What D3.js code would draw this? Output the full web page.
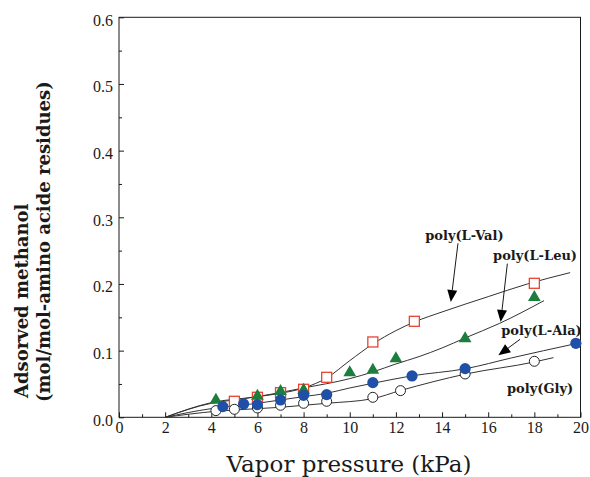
<!DOCTYPE html>
<html><head><meta charset="utf-8">
<script src="https://cdn.jsdelivr.net/npm/d3@7"></script>
<style>body{margin:0;background:#fff}svg{display:block}
.tk{font-family:"Liberation Serif","Times New Roman",Times,serif;font-size:16px}</style>
</head><body>
<svg id="c" width="590" height="477"></svg>
<script>
// ---- data ----
const xTicks = [0,2,4,6,8,10,12,14,16,18,20];
const yTicks = [0.0,0.1,0.2,0.3,0.4,0.5,0.6];

const valX = [5, 6, 7, 8, 9, 11, 12.8, 18];
const valY = [0.024, 0.030, 0.037, 0.042, 0.060, 0.113, 0.144, 0.201];
const leuX = [4.2, 6, 7, 8, 10, 11, 12, 15, 18];
const leuY = [0.026, 0.032, 0.039, 0.041, 0.067, 0.071, 0.088, 0.118, 0.180];
const alaX = [4.5, 5.4, 6, 7, 8, 9, 11, 12.7, 15, 19.8];
const alaY = [0.016, 0.020, 0.019, 0.026, 0.033, 0.034, 0.052, 0.062, 0.073, 0.111];
const glyX = [4.2, 5, 6, 7, 8, 9, 11, 12.2, 15, 18];
const glyY = [0.010, 0.012, 0.014, 0.018, 0.021, 0.024, 0.030, 0.040, 0.065, 0.084];

// fitted curves as drawn in the figure
const valFitX = [2, 4, 5, 6, 7, 8, 9, 10, 11, 12, 12.8, 14, 16, 17.7, 19.55];
const valFitY = [0, 0.021, 0.026, 0.031, 0.036, 0.044, 0.059, 0.085, 0.110, 0.130, 0.143, 0.158, 0.181, 0.200, 0.217];
const leuFitX = [2, 4, 6, 8, 10, 11, 12, 13, 14, 15, 16.5, 18.42];
const leuFitY = [0, 0.022, 0.031, 0.044, 0.058, 0.068, 0.080, 0.091, 0.104, 0.119, 0.141, 0.175];
const alaFitX = [2, 4, 5, 6, 7, 8, 9, 10, 11, 12.66, 15.04, 17, 19.8];
const alaFitY = [0, 0.013, 0.017, 0.021, 0.026, 0.031, 0.036, 0.044, 0.051, 0.062, 0.073, 0.089, 0.1105];
const glyFitX = [2, 4.2, 5, 6, 7, 8, 9, 11, 12.18, 15.04, 18, 18.83];
const glyFitY = [0, 0.009, 0.011, 0.013, 0.015, 0.018, 0.021, 0.028, 0.040, 0.065, 0.083, 0.0895];

const labelText = ["poly(L-Val)", "poly(L-Leu)", "poly(L-Ala)", "poly(Gly)"];
const labelX = [14.97, 18.03, 18.31, 18.25];
const labelY = [0.2655, 0.2355, 0.123, 0.036];
const arrowFromX = [14.69, 16.83, 17.38];
const arrowFromY = [0.261, 0.2305, 0.117];
const arrowToX = [14.38, 16.54, 16.44];
const arrowToY = [0.173, 0.143, 0.093];

// ---- drawing ----
const svg = d3.select("#c");
const L = 119, R = 580.5, T = 17.3, B = 417.3;
const x = d3.scaleLinear().domain([0,20]).range([L,R]);
const y = d3.scaleLinear().domain([0,0.6]).range([B,T]);
const ink = "#1a1a1a";
const wide = "'DejaVu Serif', serif";

// ticks inside
const xMinor = d3.range(1,20,2);
const yMinor = d3.range(0.05,0.6,0.1);
const gx = svg.append("g").attr("transform",`translate(0,${B})`)
  .call(d3.axisBottom(x).tickValues(xTicks).tickSize(-5).tickFormat(d3.format("d")));
gx.attr("font-family",null).attr("font-size",null);
gx.select(".domain").remove();
gx.selectAll(".tick line").attr("stroke",ink);
gx.selectAll(".tick text").attr("class","tk").attr("fill",ink).attr("y",16).attr("dy",0);
svg.append("g").attr("transform",`translate(0,${B})`)
  .call(d3.axisBottom(x).tickValues(xMinor).tickSize(-3).tickFormat(""))
  .call(g=>g.select(".domain").remove()).selectAll("line").attr("stroke",ink);

const gy = svg.append("g").attr("transform",`translate(${L},0)`)
  .call(d3.axisLeft(y).tickValues(yTicks).tickSize(-5).tickFormat(d3.format(".1f")));
gy.attr("font-family",null).attr("font-size",null);
gy.select(".domain").remove();
gy.selectAll(".tick line").attr("stroke",ink);
gy.selectAll(".tick text").attr("class","tk").attr("fill",ink).attr("x",-6).attr("dy","0.5em");
svg.append("g").attr("transform",`translate(${L},0)`)
  .call(d3.axisLeft(y).tickValues(yMinor).tickSize(-3).tickFormat(""))
  .call(g=>g.select(".domain").remove()).selectAll("line").attr("stroke",ink);

// frame
svg.append("rect").attr("x",L).attr("y",T).attr("width",R-L).attr("height",B-T)
  .attr("fill","none").attr("stroke",ink).attr("stroke-width",1);

// fitted lines
const line = d3.line().x(d=>x(d[0])).y(d=>y(d[1])).curve(d3.curveMonotoneX);
const fits = [[glyFitX,glyFitY],[alaFitX,alaFitY],[leuFitX,leuFitY],[valFitX,valFitY]];
fits.forEach(([fx,fy])=>{
  svg.append("path").datum(fx.map((v,i)=>[v,fy[i]])).attr("d",line)
    .attr("fill","none").attr("stroke","#333").attr("stroke-width",1);
});

// markers
const zip = (a,b)=>a.map((v,i)=>[v,b[i]]);
svg.append("g").selectAll("rect").data(zip(valX,valY)).join("rect")
  .attr("x",d=>x(d[0])-5).attr("y",d=>y(d[1])-5).attr("width",10).attr("height",10)
  .attr("fill","#fff").attr("stroke","#e8432f").attr("stroke-width",1.3);
const tri = d3.symbol().type(d3.symbolTriangle).size(70);
svg.append("g").selectAll("path").data(zip(leuX,leuY)).join("path")
  .attr("d",tri).attr("transform",d=>`translate(${x(d[0])},${y(d[1])})`)
  .attr("fill","#1d7d3d");
svg.append("g").selectAll("circle").data(zip(glyX,glyY)).join("circle")
  .attr("cx",d=>x(d[0])).attr("cy",d=>y(d[1])).attr("r",5)
  .attr("fill","#fff").attr("stroke","#222").attr("stroke-width",1);
svg.append("g").selectAll("circle").data(zip(alaX,alaY)).join("circle")
  .attr("cx",d=>x(d[0])).attr("cy",d=>y(d[1])).attr("r",5.6)
  .attr("fill","#1f4fa6");

// annotations
labelText.forEach((t,i)=>{
  svg.append("text").attr("x",x(labelX[i])).attr("y",y(labelY[i]))
    .attr("text-anchor","middle").style("font-family",wide).attr("font-weight","bold")
    .attr("font-size",13).attr("fill",ink).text(t);
});
arrowFromX.forEach((v,i)=>{
  const x1=x(v), y1=y(arrowFromY[i]), x2=x(arrowToX[i]), y2=y(arrowToY[i]);
  const ang=Math.atan2(y2-y1,x2-x1), len=12, hw=5;
  const bx=x2-len*Math.cos(ang), by=y2-len*Math.sin(ang);
  svg.append("line").attr("x1",x1).attr("y1",y1).attr("x2",bx).attr("y2",by)
    .attr("stroke",ink).attr("stroke-width",1);
  const px=-Math.sin(ang)*hw, py=Math.cos(ang)*hw;
  svg.append("path").attr("d",`M${x2},${y2}L${bx+px},${by+py}L${bx-px},${by-py}Z`).attr("fill","#000");
});

// axis titles
svg.append("text").attr("x",349).attr("y",471.5).attr("text-anchor","middle")
  .style("font-family",wide).attr("font-size",23).attr("fill",ink).text("Vapor pressure (kPa)");
svg.append("text").attr("transform","translate(28,398) rotate(-90)")
  .style("font-family",wide).attr("font-weight","bold").attr("font-size",18).attr("fill",ink)
  .text("Adsorved methanol");
svg.append("text").attr("transform","translate(50,402) rotate(-90)")
  .style("font-family",wide).attr("font-weight","bold").attr("font-size",18).attr("fill",ink)
  .text("(mol/mol-amino acide residues)");
</script>
</body></html>
